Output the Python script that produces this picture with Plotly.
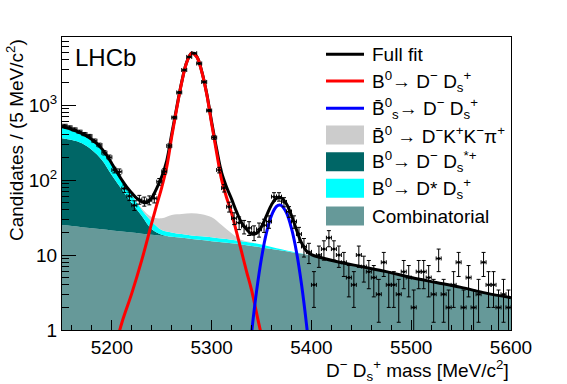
import numpy as np
import plotly.graph_objects as go

# ---------------- data ----------------
bin_centers = [5152.5 + 5 * i for i in range(90)]
counts = [530, 505, 474, 441, 410, 386, 334, 293, 231, 201,
          136, 129, 77, 61, 46, 55, 52, 54, 57, 95,
          130, 285, 680, 1470, 2930, 4380, 4900, 3580, 2030, 845,
          368, 136, 78, 44, 31, 27, 24, 23, 20, 22,
          25, 28, 60, 60, 51, 38, 28, 19, 13, 11,
          4, 10, 12, 17, 12, 10, 8, 5, 4, 10,
          7, 6, 5, 3, 8, 4, 4, 3, 6, 5,
          2, 6, 6, 5, 3, 9, 3, 2, 4, 8,
          2, 5, 2, 3, 8, 4, 4, 2, 3, 2]

# background components (stacked)
x_bkg = [5150, 5160, 5170, 5180, 5190, 5200, 5210, 5220, 5230, 5240,
         5250, 5260, 5270, 5280, 5290, 5300, 5310, 5320, 5330, 5340,
         5350, 5360, 5370, 5380, 5390, 5400, 5425, 5450, 5475, 5500,
         5525, 5550, 5575, 5600]
comb = [25.1, 24.3, 23.5, 22.7, 22.0, 21.3, 20.6, 19.9, 19.2, 18.6,
        18.1, 17.5, 17.0, 16.4, 15.9, 15.3, 14.8, 14.3, 13.8, 13.2,
        12.6, 12.0, 11.5, 10.9, 10.4, 9.8, 8.2, 7.0, 6.0, 5.0,
        4.3, 3.7, 3.1, 2.7]
dsstar = [335, 316, 285, 228, 163, 94, 54, 29, 14, 3.4,
          0.5, 0, 0, 0, 0, 0, 0, 0, 0, 0,
          0, 0, 0, 0, 0, 0, 0, 0, 0, 0,
          0, 0, 0, 0]
dstar = [135, 120, 90, 79, 66, 45, 25, 14, 7, 6,
         2.9, 2.5, 2.0, 1.8, 1.9, 2.0, 1.8, 1.7, 1.5, 1.4,
         1.2, 0.8, 0.4, 0.2, 0.1, 0, 0, 0, 0, 0,
         0, 0, 0, 0]
dkkpi = [0, 0, 0, 0, 0, 0, 0, 0.5, 1.5, 4,
         9.3, 14.2, 16.2, 17.7, 17.1, 14.5, 8.5, 3.5, 0.5, 0.1,
         0, 0, 0, 0, 0, 0, 0, 0, 0, 0,
         0, 0, 0, 0]

# B0 -> D- Ds+ signal
x_b0 = [5200, 5210, 5220, 5230, 5240, 5245, 5250, 5255, 5260, 5265,
        5270, 5275, 5280, 5285, 5290, 5295, 5300, 5305, 5310, 5315,
        5320, 5325, 5330, 5335, 5340, 5350, 5360]
y_b0 = [0.4, 1.25, 3.1, 8.6, 27, 47, 80, 150, 380, 900,
        2000, 3700, 4900, 4400, 2800, 1400, 560, 230, 100, 58,
        36, 20, 11, 6, 3.4, 0.85, 0.3]

# Bs0bar -> D- Ds+ signal
x_bs = [5330, 5335, 5340, 5345, 5350, 5355, 5360, 5365, 5368, 5370,
        5375, 5380, 5385, 5390, 5395, 5400, 5405]
y_bs = [0.03, 0.2, 0.92, 3.3, 9.2, 20, 33.8, 44.4, 46.5, 45.6,
        36.4, 22.6, 11, 4.1, 1.2, 0.28, 0.05]

# full fit
x_fit = [5150, 5155, 5160, 5165, 5170, 5175, 5180, 5185, 5190, 5195,
         5200, 5205, 5210, 5215, 5220, 5225, 5230, 5235, 5240, 5245,
         5250, 5255, 5260, 5265, 5270, 5275, 5280, 5285, 5290, 5295,
         5300, 5305, 5310, 5315, 5320, 5325, 5330, 5335, 5340, 5345,
         5350, 5355, 5360, 5365, 5370, 5375, 5380, 5385, 5390, 5395,
         5400, 5410, 5425, 5450, 5475, 5500, 5525, 5550, 5575, 5600]
y_fit = [515, 495, 470, 445, 415, 385, 345, 305, 260, 212,
         165, 128, 100, 80, 67, 57, 51, 50, 58, 78,
         111, 182, 414, 935, 2035, 3735, 4935, 4435, 2835, 1435,
         592, 258, 125, 80, 55.5, 37.5, 27, 22, 19, 19.5,
         23.9, 33.5, 46.9, 56.8, 57.5, 47.9, 33.7, 21.8, 14.6, 11.3,
         10.1, 9.2, 8.2, 7.0, 6.0, 5.0, 4.3, 3.7, 3.1, 2.7]

y_ticks = [1, 10, 100, 1000]
y_ticktext = ["1", "10", "10<sup>2</sup>", "10<sup>3</sup>"]
x_ticks = [5200, 5300, 5400, 5500, 5600]

# ---------------- figure ----------------
FONT = "Liberation Sans, Arial, sans-serif"
FS = 19
C_COMB = "#669999"
C_DSSTAR = "#006666"
C_DSTAR = "#00ffff"
C_DKKPI = "#cccccc"

top_comb = np.array(comb, dtype=float)
top_dsstar = top_comb + np.array(dsstar)
top_dstar = top_dsstar + np.array(dstar)
top_dkkpi = top_dstar + np.array(dkkpi)

fig = go.Figure()
for top, col, fill in [(top_comb, C_COMB, "tozeroy"),
                       (top_dsstar, C_DSSTAR, "tonexty"),
                       (top_dstar, C_DSTAR, "tonexty"),
                       (top_dkkpi, C_DKKPI, "tonexty")]:
    fig.add_trace(go.Scatter(x=x_bkg, y=top, mode="lines", fill=fill,
                             fillcolor=col, line=dict(width=0, shape="spline"),
                             showlegend=False, hoverinfo="skip"))
fig.add_trace(go.Scatter(x=x_fit, y=y_fit, mode="lines",
                         line=dict(color="black", width=3, shape="spline"),
                         showlegend=False))
fig.add_trace(go.Scatter(x=x_b0, y=y_b0, mode="lines",
                         line=dict(color="#ff0000", width=3, shape="spline"),
                         showlegend=False))
fig.add_trace(go.Scatter(x=x_bs, y=y_bs, mode="lines",
                         line=dict(color="#0000ff", width=3, shape="spline"),
                         showlegend=False))

n = np.array(counts, dtype=float)
err = np.sqrt(n)
fig.add_trace(go.Scatter(
    x=bin_centers, y=counts, mode="markers",
    marker=dict(color="black", size=3),
    error_y=dict(type="data", array=err, arrayminus=np.minimum(err, n - 1e-3),
                 color="black", thickness=1, width=2),
    error_x=dict(type="constant", value=2.5, color="black", thickness=1, width=2),
    showlegend=False))

# ---------------- layout ----------------
L, R, T, B = 62, 56, 37, 54
W, H = 567, 384
pw, ph = W - L - R, H - T - B


def px2x(px):
    return (px - L) / pw


def py2y(py):
    return (H - B - py) / ph


minor_y = [m * 10 ** d for d in range(0, 4) for m in range(2, 10) if m * 10 ** d < 8100]

fig.update_layout(
    width=W, height=H, autosize=False,
    margin=dict(l=L, r=R, t=T, b=B, autoexpand=False),
    paper_bgcolor="white", plot_bgcolor="white",
    font=dict(family=FONT, size=FS, color="black"),
    xaxis=dict(range=[5150, 5600], tickvals=x_ticks, ticks="inside", ticklen=10,
               tickcolor="black", showline=True, mirror=True, linecolor="black",
               linewidth=1, showgrid=False, zeroline=False,
               tickfont=dict(size=FS),
               minor=dict(dtick=20, ticks="inside", ticklen=5, tickcolor="black",
                          showgrid=False)),
    yaxis=dict(type="log", range=[0, np.log10(8070)], tickvals=y_ticks,
               ticktext=y_ticktext, ticks="inside", ticklen=14, tickcolor="black",
               showline=True, mirror=True, linecolor="black", linewidth=1,
               showgrid=False, zeroline=False, tickfont=dict(size=FS),
               minor=dict(tickvals=minor_y, ticks="inside", ticklen=7,
                          tickcolor="black", showgrid=False)),
)

ann = []
ann.append(dict(text="LHCb", x=px2x(73), y=py2y(57), xref="paper", yref="paper",
                xanchor="left", yanchor="middle", showarrow=False,
                font=dict(size=24)))
ann.append(dict(text="D<sup>−</sup> D<sub>s</sub><sup>+</sup> mass [MeV/c<sup>2</sup>]",
                x=1.0, y=py2y(370), xref="paper", yref="paper",
                xanchor="right", yanchor="middle", showarrow=False,
                font=dict(size=FS)))
ann.append(dict(text="Candidates / (5 MeV/c<sup>2</sup>)", x=px2x(15), y=1.0,
                xref="paper", yref="paper", xanchor="center", yanchor="top",
                textangle=-90, showarrow=False, font=dict(size=FS)))

legend_rows = [
    ("line", "black", "Full fit"),
    ("line", "#ff0000", "B<sup>0</sup>→ D<sup>−</sup> D<sub>s</sub><sup>+</sup>"),
    ("line", "#0000ff", "B̄<sup>0</sup><sub>s</sub>→ D<sup>−</sup> D<sub>s</sub><sup>+</sup>"),
    ("box", C_DKKPI, "B̄<sup>0</sup> → D<sup>−</sup>K<sup>+</sup>K<sup>−</sup>π<sup>+</sup>"),
    ("box", C_DSSTAR, "B<sup>0</sup>→ D<sup>−</sup> D<sub>s</sub><sup>*+</sup>"),
    ("box", C_DSTAR, "B<sup>0</sup>→ D* D<sub>s</sub><sup>+</sup>"),
    ("box", C_COMB, "Combinatorial"),
]
row_py = [54.3, 81, 108.3, 135, 161.7, 188.3, 216]
shapes = []
for (kind, col, txt), py in zip(legend_rows, row_py):
    yc = py2y(py)
    if kind == "line":
        shapes.append(dict(type="line", xref="paper", yref="paper",
                           x0=px2x(326), x1=px2x(364), y0=yc, y1=yc,
                           line=dict(color=col, width=3)))
    else:
        shapes.append(dict(type="rect", xref="paper", yref="paper",
                           x0=px2x(326), x1=px2x(364), y0=py2y(py + 9.5),
                           y1=py2y(py - 9.5), fillcolor=col, line=dict(width=0)))
    ann.append(dict(text=txt, x=px2x(370), y=yc, xref="paper", yref="paper",
                    xanchor="left", yanchor="middle", showarrow=False,
                    font=dict(size=FS)))

fig.update_layout(annotations=ann, shapes=shapes)
fig.write_html("out.html", config={"displayModeBar": False})

# remove the default page margin so the figure sits at the window's corner
with open("out.html", "r", encoding="utf-8") as f:
    html = f.read()
html = html.replace("<body>", '<body style="margin:0;padding:0;">', 1)
with open("out.html", "w", encoding="utf-8") as f:
    f.write(html)
